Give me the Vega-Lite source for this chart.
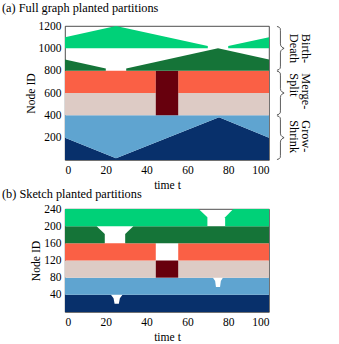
{
  "$schema": "https://vega.github.io/schema/vega-lite/v6.json",
  "padding": {"left": 1, "top": 1, "right": 4, "bottom": 1},
  "spacing": -5,
  "config": {
    "font": "Liberation Serif",
    "view": {"stroke": "#222", "strokeWidth": 0.8},
    "axis": {"labelFontSize": 11.5, "titleFontSize": 11.6, "titleFontWeight": "normal", "labelColor": "#000", "titleColor": "#000", "grid": false, "ticks": false, "domain": false, "labelPadding": 4, "labelOverlap": false, "format": "d"},
    "axisX": {"titlePadding": 4},
    "axisY": {"titlePadding": 2},
    "title": {"fontSize": 12.3, "fontWeight": "normal", "anchor": "start", "frame": "group", "dx": -63, "color": "#000", "offset": 6}
  },
  "datasets": {
    "full": [
      {"c": "navy", "s": "n1", "t": 0, "lo": 0, "hi": 200},
      {"c": "navy", "s": "n1", "t": 25, "lo": 0, "hi": 15},
      {"c": "navy", "s": "n1", "t": 75.5, "lo": 0, "hi": 382},
      {"c": "navy", "s": "n1", "t": 100, "lo": 0, "hi": 200},
      {"c": "lblue", "s": "b1", "t": 0, "lo": 200, "hi": 400},
      {"c": "lblue", "s": "b1", "t": 25, "lo": 15, "hi": 400},
      {"c": "lblue", "s": "b1", "t": 75.5, "lo": 382, "hi": 400},
      {"c": "lblue", "s": "b1", "t": 100, "lo": 200, "hi": 400},
      {"c": "beige", "s": "e1", "t": 0, "lo": 400, "hi": 600},
      {"c": "beige", "s": "e1", "t": 44.5, "lo": 400, "hi": 600},
      {"c": "beige", "s": "e2", "t": 55.5, "lo": 400, "hi": 600},
      {"c": "beige", "s": "e2", "t": 100, "lo": 400, "hi": 600},
      {"c": "salmon", "s": "r1", "t": 0, "lo": 600, "hi": 800},
      {"c": "salmon", "s": "r1", "t": 44.5, "lo": 600, "hi": 800},
      {"c": "salmon", "s": "r2", "t": 55.5, "lo": 600, "hi": 800},
      {"c": "salmon", "s": "r2", "t": 100, "lo": 600, "hi": 800},
      {"c": "maroon", "s": "m1", "t": 44.5, "lo": 400, "hi": 800},
      {"c": "maroon", "s": "m1", "t": 55.5, "lo": 400, "hi": 800},
      {"c": "dgreen", "s": "g1", "t": 0, "lo": 800, "hi": 900},
      {"c": "dgreen", "s": "g1", "t": 20, "lo": 800, "hi": 820},
      {"c": "dgreen", "s": "g2", "t": 30, "lo": 800, "hi": 820},
      {"c": "dgreen", "s": "g2", "t": 75, "lo": 800, "hi": 1000},
      {"c": "dgreen", "s": "g2", "t": 100, "lo": 800, "hi": 900},
      {"c": "bgreen", "s": "h1", "t": 0, "lo": 1000, "hi": 1100},
      {"c": "bgreen", "s": "h1", "t": 25, "lo": 1000, "hi": 1200},
      {"c": "bgreen", "s": "h1", "t": 70, "lo": 1000, "hi": 1020},
      {"c": "bgreen", "s": "h2", "t": 80, "lo": 1000, "hi": 1020},
      {"c": "bgreen", "s": "h2", "t": 100, "lo": 1000, "hi": 1100}
    ],
    "sketch": [
      {"c": "navy", "s": "n", "t": 0, "lo": 0, "hi": 40},
      {"c": "navy", "s": "n", "t": 22.5, "lo": 0, "hi": 40},
      {"c": "navy", "s": "n", "t": 23.8, "lo": 0, "hi": 32},
      {"c": "navy", "s": "n", "t": 24.3, "lo": 0, "hi": 19},
      {"c": "navy", "s": "n", "t": 26.4, "lo": 0, "hi": 19},
      {"c": "navy", "s": "n", "t": 26.9, "lo": 0, "hi": 32},
      {"c": "navy", "s": "n", "t": 28.2, "lo": 0, "hi": 40},
      {"c": "navy", "s": "n", "t": 100, "lo": 0, "hi": 40},
      {"c": "lblue", "s": "b", "t": 0, "lo": 40, "hi": 80},
      {"c": "lblue", "s": "b", "t": 72.5, "lo": 40, "hi": 80},
      {"c": "lblue", "s": "b", "t": 73.6, "lo": 40, "hi": 72},
      {"c": "lblue", "s": "b", "t": 74, "lo": 40, "hi": 58},
      {"c": "lblue", "s": "b", "t": 76, "lo": 40, "hi": 58},
      {"c": "lblue", "s": "b", "t": 76.4, "lo": 40, "hi": 72},
      {"c": "lblue", "s": "b", "t": 77.4, "lo": 40, "hi": 80},
      {"c": "lblue", "s": "b", "t": 100, "lo": 40, "hi": 80},
      {"c": "beige", "s": "e1", "t": 0, "lo": 80, "hi": 120},
      {"c": "beige", "s": "e1", "t": 44.5, "lo": 80, "hi": 120},
      {"c": "beige", "s": "e2", "t": 55.5, "lo": 80, "hi": 120},
      {"c": "beige", "s": "e2", "t": 100, "lo": 80, "hi": 120},
      {"c": "maroon", "s": "m", "t": 44.5, "lo": 80, "hi": 120},
      {"c": "maroon", "s": "m", "t": 55.5, "lo": 80, "hi": 120},
      {"c": "salmon", "s": "r1", "t": 0, "lo": 120, "hi": 160},
      {"c": "salmon", "s": "r1", "t": 44.5, "lo": 120, "hi": 160},
      {"c": "salmon", "s": "r2", "t": 55.5, "lo": 120, "hi": 160},
      {"c": "salmon", "s": "r2", "t": 100, "lo": 120, "hi": 160},
      {"c": "dgreen", "s": "g1", "t": 0, "lo": 160, "hi": 200},
      {"c": "dgreen", "s": "g1", "t": 15.5, "lo": 160, "hi": 200},
      {"c": "dgreen", "s": "g1", "t": 19.5, "lo": 160, "hi": 182},
      {"c": "dgreen", "s": "g2", "t": 29.5, "lo": 160, "hi": 182},
      {"c": "dgreen", "s": "g2", "t": 33.5, "lo": 160, "hi": 200},
      {"c": "dgreen", "s": "g2", "t": 100, "lo": 160, "hi": 200},
      {"c": "bgreen", "s": "h1", "t": 0, "lo": 200, "hi": 240},
      {"c": "bgreen", "s": "h1", "t": 65.5, "lo": 200, "hi": 240},
      {"c": "bgreen", "s": "h1", "t": 69.8, "lo": 200, "hi": 221},
      {"c": "bgreen", "s": "h2", "t": 78.5, "lo": 200, "hi": 221},
      {"c": "bgreen", "s": "h2", "t": 82.5, "lo": 200, "hi": 240},
      {"c": "bgreen", "s": "h2", "t": 100, "lo": 200, "hi": 240}
    ],
    "braces": [
      {"b": "bd", "i": 1, "t": 103.9, "y": 1196},
      {"b": "bd", "i": 2, "t": 104.9, "y": 1190},
      {"b": "bd", "i": 3, "t": 105.5, "y": 1178},
      {"b": "bd", "i": 4, "t": 105.6, "y": 1160},
      {"b": "bd", "i": 5, "t": 105.6, "y": 1040},
      {"b": "bd", "i": 6, "t": 105.8, "y": 1022},
      {"b": "bd", "i": 7, "t": 106.4, "y": 1010},
      {"b": "bd", "i": 8, "t": 107.4, "y": 1000},
      {"b": "bd", "i": 9, "t": 106.4, "y": 990},
      {"b": "bd", "i": 10, "t": 105.8, "y": 978},
      {"b": "bd", "i": 11, "t": 105.6, "y": 960},
      {"b": "bd", "i": 12, "t": 105.6, "y": 840},
      {"b": "bd", "i": 13, "t": 105.5, "y": 822},
      {"b": "bd", "i": 14, "t": 104.9, "y": 810},
      {"b": "bd", "i": 15, "t": 103.9, "y": 804},
      {"b": "ms", "i": 1, "t": 103.9, "y": 796},
      {"b": "ms", "i": 2, "t": 104.9, "y": 790},
      {"b": "ms", "i": 3, "t": 105.5, "y": 778},
      {"b": "ms", "i": 4, "t": 105.6, "y": 760},
      {"b": "ms", "i": 5, "t": 105.6, "y": 640},
      {"b": "ms", "i": 6, "t": 105.8, "y": 622},
      {"b": "ms", "i": 7, "t": 106.4, "y": 610},
      {"b": "ms", "i": 8, "t": 107.4, "y": 600},
      {"b": "ms", "i": 9, "t": 106.4, "y": 590},
      {"b": "ms", "i": 10, "t": 105.8, "y": 578},
      {"b": "ms", "i": 11, "t": 105.6, "y": 560},
      {"b": "ms", "i": 12, "t": 105.6, "y": 440},
      {"b": "ms", "i": 13, "t": 105.5, "y": 422},
      {"b": "ms", "i": 14, "t": 104.9, "y": 410},
      {"b": "ms", "i": 15, "t": 103.9, "y": 404},
      {"b": "gs", "i": 1, "t": 103.9, "y": 396},
      {"b": "gs", "i": 2, "t": 104.9, "y": 390},
      {"b": "gs", "i": 3, "t": 105.5, "y": 378},
      {"b": "gs", "i": 4, "t": 105.6, "y": 360},
      {"b": "gs", "i": 5, "t": 105.6, "y": 240},
      {"b": "gs", "i": 6, "t": 105.8, "y": 222},
      {"b": "gs", "i": 7, "t": 106.4, "y": 210},
      {"b": "gs", "i": 8, "t": 107.4, "y": 200},
      {"b": "gs", "i": 9, "t": 106.4, "y": 190},
      {"b": "gs", "i": 10, "t": 105.8, "y": 178},
      {"b": "gs", "i": 11, "t": 105.6, "y": 160},
      {"b": "gs", "i": 12, "t": 105.6, "y": 40},
      {"b": "gs", "i": 13, "t": 105.5, "y": 22},
      {"b": "gs", "i": 14, "t": 104.9, "y": 10},
      {"b": "gs", "i": 15, "t": 103.9, "y": 4}
    ],
    "labels": [
      {"label": "Birth-\nDeath", "t": 118, "y": 1130},
      {"label": "Merge-\nSplit", "t": 118, "y": 776},
      {"label": "Grow-\nShrink", "t": 118, "y": 356}
    ]
  },
  "vconcat": [
    {
      "title": "(a) Full graph planted partitions",
      "width": 204,
      "height": 134,
      "layer": [
        {
          "data": {"name": "full"},
          "mark": {"type": "area", "interpolate": "linear"},
          "encoding": {
            "x": {"field": "t", "type": "quantitative", "scale": {"domain": [0, 100], "nice": false}, "axis": {"values": [0, 20, 40, 60, 80, 100], "title": "time t", "labelOverlap": false}},
            "y": {"field": "lo", "type": "quantitative", "scale": {"domain": [0, 1200], "nice": false}, "axis": {"values": [200, 400, 600, 800, 1000, 1200], "title": "Node ID", "labelOverlap": false, "labelBound": false, "labelSeparation": 0}},
            "y2": {"field": "hi"},
            "color": {"field": "c", "type": "nominal", "legend": null, "scale": {"domain": ["navy", "lblue", "beige", "salmon", "maroon", "dgreen", "bgreen"], "range": ["#08306b", "#5fa4d0", "#ddcbc5", "#fa6045", "#67000d", "#157438", "#00d178"]}},
            "detail": {"field": "s"}
          }
        },
        {
          "data": {"name": "braces"},
          "mark": {"type": "line", "clip": false, "color": "#333", "strokeWidth": 0.8},
          "encoding": {
            "x": {"field": "t", "type": "quantitative", "scale": {"domain": [0, 100], "nice": false}, "axis": {"values": [0, 20, 40, 60, 80, 100], "title": "time t", "labelOverlap": false}},
            "y": {"field": "y", "type": "quantitative", "scale": {"domain": [0, 1200], "nice": false}, "axis": {"values": [200, 400, 600, 800, 1000, 1200], "title": "Node ID", "labelOverlap": false, "labelBound": false, "labelSeparation": 0}},
            "detail": {"field": "b"},
            "order": {"field": "i"}
          }
        },
        {
          "data": {"name": "labels"},
          "mark": {"type": "text", "angle": 90, "lineBreak": "\n", "fontSize": 12.3, "lineHeight": 11.5, "align": "left", "baseline": "middle", "color": "#000"},
          "encoding": {
            "x": {"field": "t", "type": "quantitative", "scale": {"domain": [0, 100], "nice": false}, "axis": {"values": [0, 20, 40, 60, 80, 100], "title": "time t", "labelOverlap": false}},
            "y": {"field": "y", "type": "quantitative", "scale": {"domain": [0, 1200], "nice": false}, "axis": {"values": [200, 400, 600, 800, 1000, 1200], "title": "Node ID", "labelOverlap": false, "labelBound": false, "labelSeparation": 0}},
            "text": {"field": "label"}
          }
        }
      ]
    },
    {
      "title": {"text": "(b) Sketch planted partitions", "offset": 3},
      "width": 204,
      "height": 103,
      "data": {"name": "sketch"},
      "mark": {"type": "area", "interpolate": "linear"},
      "encoding": {
        "x": {"field": "t", "type": "quantitative", "scale": {"domain": [0, 100], "nice": false}, "axis": {"values": [0, 20, 40, 60, 80, 100], "title": "time t", "labelOverlap": false}},
        "y": {"field": "lo", "type": "quantitative", "scale": {"domain": [0, 240], "nice": false}, "axis": {"values": [40, 80, 120, 160, 200, 240], "title": "Node ID", "labelOverlap": false}},
        "y2": {"field": "hi"},
        "color": {"field": "c", "type": "nominal", "legend": null, "scale": {"domain": ["navy", "lblue", "beige", "salmon", "maroon", "dgreen", "bgreen"], "range": ["#08306b", "#5fa4d0", "#ddcbc5", "#fa6045", "#67000d", "#157438", "#00d178"]}},
        "detail": {"field": "s"}
      }
    }
  ]
}
